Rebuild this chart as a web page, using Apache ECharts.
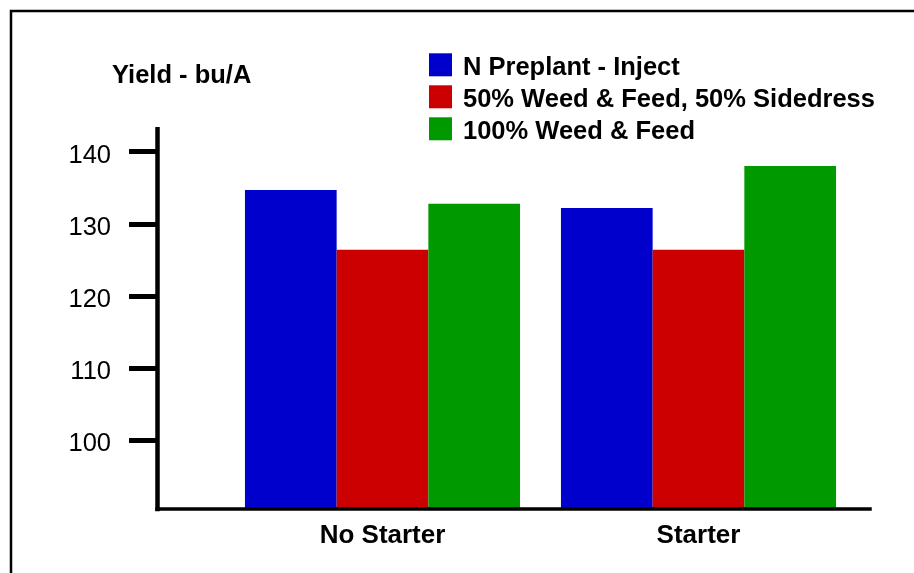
<!DOCTYPE html>
<html>
<head>
<meta charset="utf-8">
<script src="https://cdn.jsdelivr.net/npm/echarts@6/dist/echarts.min.js"></script>
<style>
  html, body { margin: 0; padding: 0; background: #fff; overflow: hidden; }
  #chart { width: 914px; height: 573px; }
</style>
</head>
<body>
<div id="chart"></div>
<script>
// Corn yield by nitrogen program, with and without starter
const categories = ['No Starter', 'Starter'];
const seriesNames = ['N Preplant - Inject', '50% Weed & Feed, 50% Sidedress', '100% Weed & Feed'];
const preplantInject = [134.7, 132.2];
const weedFeedSidedress = [126.4, 126.4];
const weedFeedFull = [132.8, 138.0];
const yTicks = [100, 110, 120, 130, 140];
const yMin = 90.5;
const yMax = 143.1;
const colors = ['#0000CC', '#CC0000', '#009900'];

const FONT = '"Liberation Sans", Arial, Helvetica, sans-serif';
const gridTop = 129.3;
const gridBottom = 64;

const chart = echarts.init(document.getElementById('chart'), null, { renderer: 'canvas' });

const barSeries = [preplantInject, weedFeedSidedress, weedFeedFull].map((vals, i) => ({
  name: seriesNames[i],
  type: 'bar',
  xAxisIndex: 1,
  yAxisIndex: 1,
  data: vals,
  barWidth: 91.7,
  barGap: '0%',
  itemStyle: { color: colors[i] },
  z: 2
}));

chart.setOption({
  animation: false,
  backgroundColor: '#ffffff',
  title: {
    text: 'Yield - bu/A',
    left: 112,
    top: 63,
    padding: 0,
    textStyle: { fontFamily: FONT, fontSize: 25.5, fontWeight: 'bold', color: '#000' }
  },
  legend: {
    orient: 'vertical',
    left: 429,
    top: 48.8,
    padding: 0,
    itemWidth: 23,
    itemHeight: 23,
    itemGap: 0,
    icon: 'rect',
    selectedMode: false,
    data: seriesNames,
    formatter: name => '{t|' + name + '}',
    textStyle: {
      rich: {
        t: {
          fontFamily: FONT, fontSize: 25.5, fontWeight: 'bold', color: '#000',
          lineHeight: 26, padding: [6, 0, 0, 6]
        }
      }
    }
  },
  grid: [
    // frame grid: carries the axis lines and value ticks
    { left: 157, right: 44, top: gridTop, bottom: gridBottom },
    // plot grid: carries the bar groups
    { left: 224.5, right: 57.5, top: gridTop, bottom: gridBottom }
  ],
  xAxis: [
    {
      type: 'category', gridIndex: 0, data: [''],
      axisLine: { show: true, lineStyle: { color: '#000', width: 3.5, cap: 'square' } },
      axisTick: { show: false }, axisLabel: { show: false }, splitLine: { show: false },
      z: 5
    },
    {
      type: 'category', gridIndex: 1, data: categories,
      axisLine: { show: false }, axisTick: { show: false }, splitLine: { show: false },
      axisLabel: {
        margin: 14,
        fontFamily: FONT, fontSize: 26, fontWeight: 'bold', color: '#000'
      }
    }
  ],
  yAxis: [
    {
      type: 'value', gridIndex: 0, min: yMin, max: yMax,
      axisLine: { show: true, lineStyle: { color: '#000', width: 4.5, cap: 'square' } },
      axisTick: { show: true, length: 28, customValues: yTicks, lineStyle: { color: '#000', width: 5 } },
      axisLabel: {
        show: true, margin: 46, customValues: yTicks,
        formatter: '{v|{value}}',
        rich: {
          v: { fontFamily: FONT, fontSize: 25.5, color: '#000', padding: [8, 0, 0, 0] }
        }
      },
      splitLine: { show: false },
      z: 5
    },
    {
      type: 'value', gridIndex: 1, min: yMin, max: yMax,
      show: false, splitLine: { show: false }
    }
  ],
  graphic: [
    {
      type: 'rect',
      shape: { x: 11, y: 11, width: 1000, height: 1000 },
      style: { fill: 'none', stroke: '#000', lineWidth: 2.5 },
      silent: true,
      z: 10
    }
  ],
  series: barSeries
});
</script>
</body>
</html>
